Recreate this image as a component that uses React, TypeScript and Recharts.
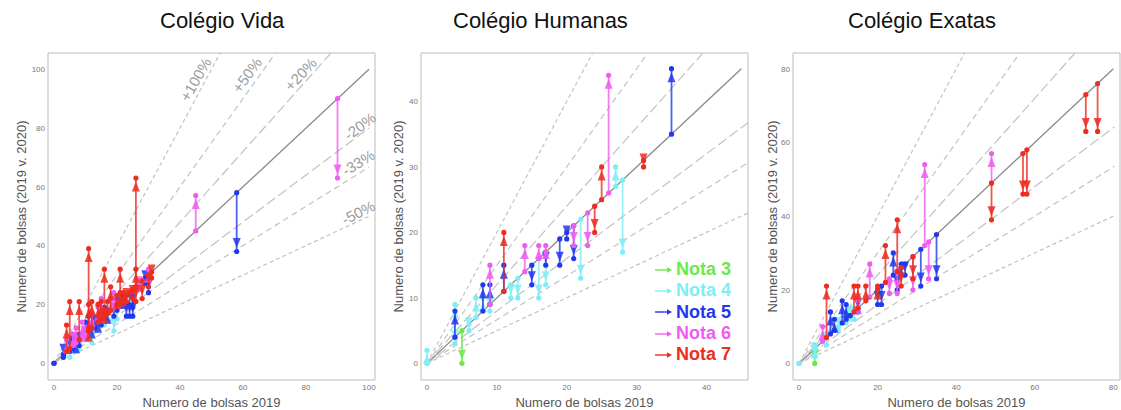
import { Legend, ReferenceArea, ReferenceDot, ReferenceLine, Scatter, ScatterChart, XAxis, YAxis } from "recharts";

const FONT = '"Liberation Sans", Arial, Helvetica, sans-serif';

const notaNames = ["Nota 3", "Nota 4", "Nota 5", "Nota 6", "Nota 7"];
const notaValues = [3, 4, 5, 6, 7];
const notaColors = ["#6ce94a", "#7eeef6", "#2238ee", "#f05cf0", "#ee2c20"];

// [bolsas 2019, bolsas 2020, nota] - arrow starts on the diagonal (2019, 2019)
const vidaArrows = [
    [0, 0, 5], [3, 2, 5], [5, 4, 5], [6, 5, 5], [7, 8, 5], [8, 6, 5], [9, 9, 5], [10, 14, 5],
    [11, 16, 5], [12, 13, 5], [13, 12, 5], [14, 15, 5], [15, 13, 5], [16, 19, 5], [17, 18, 5],
    [19, 16, 5], [20, 18, 5], [22, 23, 5], [23, 16, 5], [24, 16, 5], [25, 16, 5], [25, 19, 5],
    [29, 27, 5], [30, 24, 5], [58, 38, 5],
    [5, 2, 4], [7, 4, 4], [8, 5, 4], [10, 8, 4], [12, 7, 4], [13, 11, 4], [16, 13, 4], [19, 11, 4], [20, 15, 4],
    [4, 8, 6], [6, 10, 6], [7, 12, 6], [9, 14, 6], [10, 12, 6], [12, 17, 6], [14, 19, 6], [15, 22, 6],
    [18, 22, 6], [19, 24, 6], [20, 20, 6], [27, 25, 6], [28, 28, 6], [30, 32, 6], [45, 57, 6], [90, 63, 6],
    [4, 13, 7], [5, 21, 7], [8, 21, 7], [11, 39, 7], [11, 20, 7], [11, 12, 7], [12, 21, 7], [14, 20, 7],
    [15, 21, 7], [16, 32, 7], [16, 18, 7], [17, 21, 7], [18, 26, 7], [20, 23, 7], [21, 32, 7], [21, 24, 7],
    [22, 24, 7], [23, 21, 7], [24, 24, 7], [25, 22, 7], [26, 63, 7], [26, 32, 7], [26, 21, 7], [28, 22, 7],
    [30, 26, 7], [31, 29, 7], [30, 30, 7],
];

const humanasArrows = [
    [5, 0, 3],
    [0, 2, 4], [0, 0, 4], [4, 9, 4], [4, 3, 4], [6, 5, 4], [7, 10, 4], [8, 10, 4], [9, 8, 4], [12, 10, 4],
    [13, 10, 4], [16, 10, 4], [17, 12, 4], [22, 13, 4], [27, 30, 4], [28, 17, 4],
    [4, 8, 5], [8, 12, 5], [9, 12, 5], [11, 15, 5], [15, 12, 5], [17, 15, 5], [19, 15, 5], [20, 19, 5],
    [21, 16, 5], [35, 45, 5],
    [9, 15, 6], [14, 18, 6], [16, 18, 6], [17, 18, 6], [21, 18, 6], [23, 18, 6], [26, 44, 6],
    [11, 20, 7], [24, 20, 7], [25, 30, 7], [31, 30, 7],
];

const exatasArrows = [
    [4, 0, 3],
    [0, 0, 4], [4, 2, 4], [4, 5, 4], [7, 5, 4], [10, 9, 4], [12, 11, 4], [13, 15, 4], [14, 12, 4],
    [8, 14, 5], [9, 12, 5], [11, 17, 5], [12, 16, 5], [13, 13, 5], [15, 14, 5], [20, 16, 5], [21, 16, 5],
    [24, 30, 5], [25, 20, 5], [26, 27, 5], [27, 24, 5], [31, 21, 5], [35, 23, 5],
    [6, 10, 6], [15, 17, 6], [18, 27, 6], [23, 19, 6], [25, 19, 6], [29, 20, 6], [32, 54, 6], [33, 23, 6], [49, 57, 6],
    [7, 21, 7], [14, 21, 7], [15, 21, 7], [17, 21, 7], [20, 21, 7], [22, 32, 7], [25, 39, 7], [26, 21, 7],
    [29, 23, 7], [49, 39, 7], [57, 46, 7], [58, 46, 7], [73, 63, 7], [76, 63, 7],
];

const vidaTicks = [0, 20, 40, 60, 80, 100];
const humanasTicks = [0, 10, 20, 30, 40];
const exatasTicks = [0, 20, 40, 60, 80];

const guideSlopes = [2, 1.5, 1.2, 1, 0.8, 2 / 3, 0.5];
const guideDash = ["4 3", "6 4", "10 4", "", "10 4", "6 4", "4 3"];
const guideLabels = ["+100%", "+50%", "+20%", "", "-20%", "-33%", "-50%"];
// label anchors in Colégio Vida coordinates
const guideLabelX = [45, 61.3, 78.3, 0, 97.1, 96.6, 96.6];
const guideLabelY = [96.5, 98, 98.3, 0, 80.6, 68.2, 51.2];
const guideLabelAngle = [-60, -54, -47, 0, -37, -32, -27];

const colorOf = (nota: number) => notaColors[notaValues.indexOf(nota)];

function arrowData(a: number[]) {
    const [x, y] = a;
    const dir = y > x ? 1 : y < x ? -1 : 0;
    return [
        { x, y: x, head: false, dir },
        { x, y, head: true, dir },
    ];
}

function makeArrowShape(color: string) {
    return (props: any) => {
        const { cx, cy, payload } = props;
        if (cx == null || cy == null) return <g />;
        const d = payload.dir;
        return (
            <g>
                {payload.head && d !== 0 ? (
                    <polygon
                        points={`${cx},${cy + d * 3.5} ${cx - 4},${cy + d * 13.5} ${cx + 4},${cy + d * 13.5}`}
                        fill={color}
                        fillOpacity={0.85}
                    />
                ) : null}
                <circle cx={cx} cy={cy} r={2.6} fill={color} />
            </g>
        );
    };
}

function NotaLegend() {
    return (
        <div style={{ fontFamily: FONT }}>
            {notaNames.map((name, i) => (
                <div key={name} style={{ display: "flex", alignItems: "center", height: 21.3 }}>
                    <svg width={22} height={10} style={{ flexShrink: 0 }}>
                        <line x1={1} y1={5} x2={16} y2={5} stroke={notaColors[i]} strokeWidth={1.4} />
                        <polygon points="18,5 13,2.2 13,7.8" fill={notaColors[i]} />
                    </svg>
                    <span style={{ color: notaColors[i], fontWeight: "bold", fontSize: 18, lineHeight: "21px" }}>{name}</span>
                </div>
            ))}
        </div>
    );
}

function Panel(p: any) {
    const arrows = [...p.arrows].sort((a: number[], b: number[]) => a[2] - b[2]);
    const yTop = p.yDomain[1];
    return (
        <div style={{ position: "absolute", left: p.left, top: 0, width: p.width, height: 410 }}>
            <ScatterChart width={p.width} height={410} margin={{ top: 53, right: p.marginRight, bottom: 0, left: p.marginLeft }}>
                <XAxis
                    type="number"
                    dataKey="x"
                    domain={p.xDomain}
                    ticks={p.ticks}
                    allowDataOverflow
                    axisLine={false}
                    tickLine={false}
                    tickSize={0}
                    tickMargin={4}
                    height={30}
                    tick={{ fontSize: 8, fill: "#777", fontFamily: FONT }}
                    label={{ value: "Numero de bolsas 2019", position: "insideBottom", offset: 3, fontSize: 13, fill: "#555", fontFamily: FONT }}
                />
                <YAxis
                    type="number"
                    dataKey="y"
                    domain={p.yDomain}
                    ticks={p.ticks}
                    allowDataOverflow
                    axisLine={false}
                    tickLine={false}
                    tickSize={0}
                    tickMargin={3}
                    width={30}
                    tick={{ fontSize: 8, fill: "#777", fontFamily: FONT }}
                    label={(props: any) => {
                        const vb = props.viewBox || { x: 0, y: 0, width: 0, height: 0 };
                        const bx = vb.x + vb.width - p.yGap;
                        const cy = vb.y + vb.height / 2;
                        return (
                            <text x={bx} y={cy} transform={`rotate(-90 ${bx} ${cy})`} textAnchor="middle" fontSize={13} fill="#555" fontFamily={FONT}>
                                Numero de bolsas (2019 v. 2020)
                            </text>
                        );
                    }}
                />
                <ReferenceArea x1={p.xDomain[0]} x2={p.xDomain[1]} y1={p.yDomain[0]} y2={p.yDomain[1]} fill="none" stroke="#bbb" strokeWidth={1} />
                {guideSlopes.map((s, i) => {
                    const end = Math.min(s === 1 ? p.solidEnd : p.dashEnd, yTop / s);
                    return (
                        <ReferenceLine
                            key={`g${i}`}
                            segment={[{ x: 0, y: 0 }, { x: end, y: end * s }]}
                            stroke={s === 1 ? "#888" : "#c2c2c2"}
                            strokeWidth={s === 1 ? 1.3 : 1.2}
                            strokeDasharray={guideDash[i]}
                            ifOverflow="hidden"
                        />
                    );
                })}
                {p.showGuideLabels &&
                    guideLabels.map((t, i) =>
                        t ? (
                            <ReferenceDot
                                key={`l${i}`}
                                x={guideLabelX[i]}
                                y={guideLabelY[i]}
                                r={0}
                                fill="none"
                                stroke="none"
                                label={{ value: t, position: "center", angle: guideLabelAngle[i], fontSize: 15, fill: "#9c9c9c", fontFamily: FONT }}
                            />
                        ) : null
                    )}
                {arrows.map((a: number[], i: number) => {
                    const color = colorOf(a[2]);
                    return (
                        <Scatter
                            key={`a${i}`}
                            name={`a${i}`}
                            data={arrowData(a)}
                            line={{ stroke: color, strokeWidth: 1.8, strokeOpacity: 0.8 }}
                            shape={makeArrowShape(color)}
                            legendType="none"
                            isAnimationActive={false}
                        />
                    );
                })}
                {p.showLegend && (
                    <Legend
                        layout="vertical"
                        align="center"
                        verticalAlign="middle"
                        wrapperStyle={{ left: 276, top: 259, width: 100, height: 110 }}
                        content={() => <NotaLegend />}
                    />
                )}
            </ScatterChart>
        </div>
    );
}

const titleStyle = { position: "absolute" as const, top: 8, fontSize: 22, color: "#111", fontFamily: FONT, whiteSpace: "nowrap" as const };

export default function App() {
    return (
        <div style={{ position: "absolute", left: 0, top: 0, width: 1121, height: 410, background: "#fff", fontFamily: FONT }}>
            <Panel
                arrows={vidaArrows}
                ticks={vidaTicks}
                xDomain={[-1.9, 101.9]}
                yDomain={[-5.7, 105.5]}
                solidEnd={100}
                dashEnd={100}
                left={0}
                width={380}
                marginLeft={18}
                marginRight={5}
                yGap={22}
                showGuideLabels
            />
            <Panel
                arrows={humanasArrows}
                ticks={humanasTicks}
                xDomain={[-0.86, 45.95]}
                yDomain={[-2.54, 47.4]}
                solidEnd={45}
                dashEnd={45.95}
                left={378}
                width={375}
                marginLeft={13}
                marginRight={5}
                yGap={18}
                showLegend
            />
            <Panel
                arrows={exatasArrows}
                ticks={exatasTicks}
                xDomain={[-1.53, 81.7]}
                yDomain={[-4.5, 84.3]}
                solidEnd={80}
                dashEnd={80.3}
                left={753}
                width={368}
                marginLeft={10}
                marginRight={1}
                yGap={16}
            />
            <div style={{ ...titleStyle, left: 160 }}>Colégio Vida</div>
            <div style={{ ...titleStyle, left: 453 }}>Colégio Humanas</div>
            <div style={{ ...titleStyle, left: 848 }}>Colégio Exatas</div>
        </div>
    );
}
